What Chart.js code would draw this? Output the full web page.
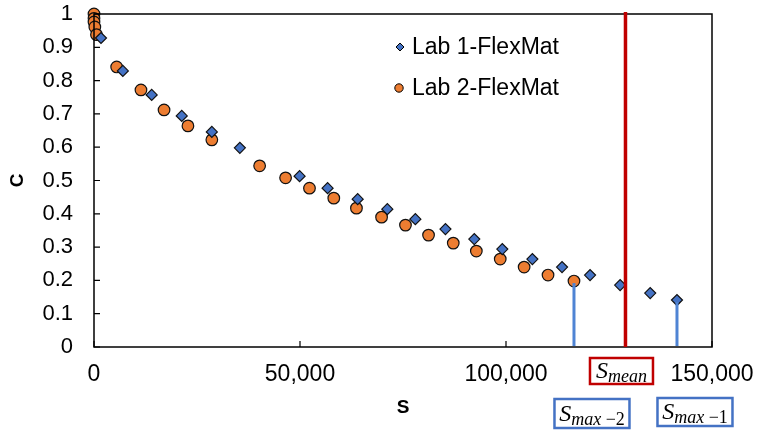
<!DOCTYPE html>
<html>
<head>
<meta charset="utf-8">
<script src="https://cdn.jsdelivr.net/npm/chart.js@4.4.0/dist/chart.umd.min.js"></script>
<style>
  html, body { margin: 0; padding: 0; background: #fff; }
  #wrap { width: 759px; height: 431px; position: relative; }
</style>
</head>
<body>
<div id="wrap"><canvas id="chart"></canvas></div>
<script>
// datos
const lab1S = [1700, 7000, 14000, 21300, 28600, 35400, 49900, 56700, 64000, 71200, 78000, 85300, 92300, 99100, 106400, 113600, 120400, 127700, 135000, 141500];
const lab1C = [0.928, 0.829, 0.757, 0.694, 0.646, 0.598, 0.513, 0.477, 0.444, 0.414, 0.384, 0.354, 0.324, 0.294, 0.264, 0.240, 0.216, 0.186, 0.162, 0.141];

const lab2S = [0, 0, 0, 200, 600, 5500, 11400, 17000, 22800, 28600, 40200, 46500, 52300, 58200, 63700, 69800, 75600, 81200, 87200, 92800, 98600, 104400, 110200, 116500];
const lab2C = [1.0, 0.987, 0.976, 0.961, 0.938, 0.841, 0.772, 0.712, 0.664, 0.622, 0.544, 0.508, 0.477, 0.447, 0.417, 0.390, 0.366, 0.336, 0.312, 0.288, 0.264, 0.240, 0.216, 0.198];

const seriesNames = ['Lab 1-FlexMat', 'Lab 2-FlexMat'];
const xTicks = [0, 50000, 100000, 150000];
const yTicks = [0, 0.1, 0.2, 0.3, 0.4, 0.5, 0.6, 0.7, 0.8, 0.9, 1];

// lineas verticales: S_mean, S_max-2, S_max-1
const sMean = 129000;
const sMax2 = [116500, 0.198];
const sMax1 = [141500, 0.141];

const BLUE = '#4472C4';
const ORANGE = '#ED7D31';
const FONT = '"Liberation Sans", Arial, sans-serif';

const toPts = (xs, ys) => xs.map((x, i) => ({ x: x, y: ys[i] }));

// caja con S en cursiva y subindice
function drawBoxLabel(ctx, cx, top, w, h, sub, tail, color) {
  ctx.save();
  ctx.strokeStyle = color;
  ctx.lineWidth = 2.5;
  ctx.strokeRect(cx - w / 2, top, w, h);
  const big = 'italic 24px "Liberation Serif", "DejaVu Serif", serif';
  const small = 'italic 18px "Liberation Serif", "DejaVu Serif", serif';
  const smallUp = '18px "Liberation Serif", "DejaVu Serif", serif';
  ctx.font = big; const wS = ctx.measureText('S').width;
  ctx.font = small; const wSub = ctx.measureText(sub).width;
  ctx.font = smallUp; const wTail = tail ? ctx.measureText(tail).width : 0;
  let x = cx - (wS + wSub + wTail) / 2;
  const base = top + h / 2 + 7;
  ctx.fillStyle = '#000';
  ctx.textBaseline = 'alphabetic';
  ctx.textAlign = 'left';
  ctx.font = big; ctx.fillText('S', x, base); x += wS;
  ctx.font = small; ctx.fillText(sub, x, base + 4); x += wSub;
  if (tail) { ctx.font = smallUp; ctx.fillText(tail, x, base + 4); }
  ctx.restore();
}

const extras = {
  id: 'extras',
  afterDatasetsDraw(chart) {
    const { ctx, chartArea: a, scales: { x, y } } = chart;
    ctx.save();
    // marco del area
    ctx.strokeStyle = '#000';
    ctx.lineWidth = 1.5;
    ctx.strokeRect(a.left, a.top, a.right - a.left, a.bottom - a.top);
    // marcas hacia dentro
    ctx.lineWidth = 1.2;
    ctx.beginPath();
    yTicks.forEach(v => { const py = y.getPixelForValue(v); ctx.moveTo(a.left, py); ctx.lineTo(a.left + 6, py); });
    xTicks.forEach(v => { const px = x.getPixelForValue(v); ctx.moveTo(px, a.bottom); ctx.lineTo(px, a.bottom - 6); });
    ctx.stroke();

    // linea roja S_mean
    const pm = x.getPixelForValue(sMean);
    ctx.strokeStyle = '#C00000';
    ctx.lineWidth = 3.5;
    ctx.beginPath(); ctx.moveTo(pm, a.top - 2); ctx.lineTo(pm, a.bottom); ctx.stroke();

    // lineas azules S_max
    ctx.strokeStyle = '#4F84D4';
    ctx.lineWidth = 3;
    [sMax2, sMax1].forEach(p => {
      const px = x.getPixelForValue(p[0]);
      ctx.beginPath(); ctx.moveTo(px, y.getPixelForValue(p[1]) + 2); ctx.lineTo(px, a.bottom - 1); ctx.stroke();
    });

    // leyenda dentro del grafico
    ctx.font = '23px ' + FONT;
    ctx.textBaseline = 'middle';
    ctx.lineWidth = 1;
    ctx.strokeStyle = '#000';
    ctx.fillStyle = BLUE;
    ctx.beginPath();
    ctx.moveTo(400, 43); ctx.lineTo(404, 47); ctx.lineTo(400, 51); ctx.lineTo(396, 47); ctx.closePath();
    ctx.fill(); ctx.stroke();
    ctx.fillStyle = ORANGE;
    ctx.beginPath(); ctx.arc(399, 88, 4.2, 0, Math.PI * 2); ctx.fill(); ctx.stroke();
    ctx.fillStyle = '#000';
    ctx.fillText(seriesNames[0], 412, 48);
    ctx.fillText(seriesNames[1], 412, 89);
    ctx.restore();

    // etiquetas con caja
    drawBoxLabel(ctx, pm - 4, 358, 63, 26, 'mean', '', '#C00000');
    drawBoxLabel(ctx, x.getPixelForValue(sMax2[0]) + 18, 399, 75, 29, 'max ', '\u22122', '#4472C4');
    drawBoxLabel(ctx, x.getPixelForValue(sMax1[0]) + 18, 398, 75, 28, 'max ', '\u22121', '#4472C4');
  }
};

const ctx = document.getElementById('chart').getContext('2d');
new Chart(ctx, {
  type: 'scatter',
  data: {
    datasets: [
      {
        label: seriesNames[0],
        data: toPts(lab1S, lab1C),
        pointStyle: 'rectRot',
        pointRadius: 5.5,
        backgroundColor: BLUE,
        borderColor: '#111',
        borderWidth: 1.2,
        clip: false
      },
      {
        label: seriesNames[1],
        data: toPts(lab2S, lab2C),
        pointStyle: 'circle',
        pointRadius: 5.8,
        backgroundColor: ORANGE,
        borderColor: '#111',
        borderWidth: 1.2,
        clip: false
      }
    ]
  },
  options: {
    responsive: true,
    maintainAspectRatio: false,
    animation: false,
    layout: { padding: { top: 14, right: 47, left: 0, bottom: 0 } },
    plugins: { legend: { display: false }, tooltip: { enabled: false } },
    scales: {
      x: {
        type: 'linear',
        min: 0, max: 150000,
        afterFit: s => { s.height = 84; s.paddingLeft = 0; s.paddingRight = 0; },
        afterBuildTicks: s => { s.ticks = xTicks.map(v => ({ value: v })); },
        grid: { display: false, drawTicks: false },
        border: { display: false },
        ticks: {
          padding: 14,
          color: '#000',
          maxRotation: 0,
          font: { family: FONT, size: 23 },
          callback: v => v.toLocaleString('en-US')
        },
        title: {
          display: true, text: 'S', color: '#000',
          font: { family: FONT, size: 19, weight: 'bold' },
          padding: { top: 0, bottom: 12 }
        }
      },
      y: {
        min: 0, max: 1,
        afterFit: s => { s.width = 94; s.paddingTop = 0; s.paddingBottom = 0; },
        afterBuildTicks: s => { s.ticks = yTicks.map(v => ({ value: v })); },
        grid: { display: false, drawTicks: false },
        border: { display: false },
        ticks: {
          padding: 21,
          color: '#000',
          font: { family: FONT, size: 22 },
          callback: v => String(+v.toFixed(1))
        },
        title: {
          display: true, text: 'C', color: '#000',
          font: { family: FONT, size: 19, weight: 'bold' },
          padding: { top: 6, bottom: 0 }
        }
      }
    }
  },
  plugins: [extras]
});
</script>
</body>
</html>
